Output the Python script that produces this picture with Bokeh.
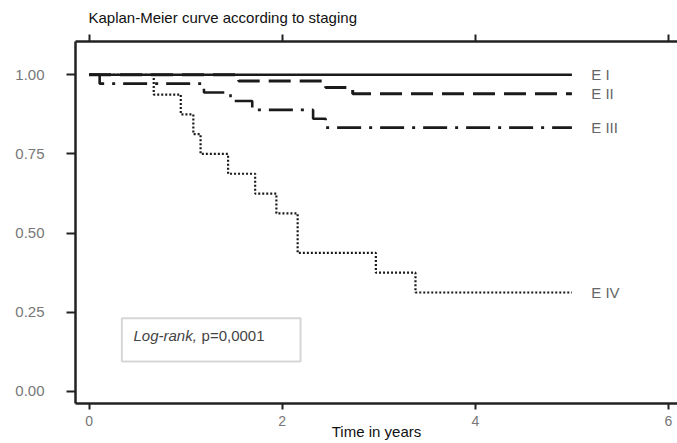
from bokeh.plotting import figure
from bokeh.models import (Range1d, LinearAxis, FixedTicker, Label, BoxAnnotation,
                          NumeralTickFormatter, CustomLabelingPolicy)
from bokeh.core.properties import value
from bokeh.embed import file_html
from bokeh.resources import INLINE

# ---------------- data ----------------
stage_names = ["E I", "E II", "E III", "E IV"]

t_e1 = [0.0, 5.0]
s_e1 = [1.0, 1.0]

t_e2 = [0.0, 1.55, 2.45, 2.73, 5.0]
s_e2 = [1.0, 0.98, 0.96, 0.94, 0.94]

t_e3 = [0.0, 0.11, 1.19, 1.465, 1.69, 2.32, 2.45, 5.0]
s_e3 = [1.0, 0.972, 0.944, 0.917, 0.889, 0.861, 0.833, 0.833]

t_e4 = [0.0, 0.67, 0.95, 1.08, 1.155, 1.44, 1.72, 1.94, 2.16, 2.97, 3.38, 5.0]
s_e4 = [1.0, 0.9375, 0.875, 0.8125, 0.75, 0.6875, 0.625, 0.5625, 0.4375, 0.375, 0.3125, 0.3125]

x_ticks = [0, 2, 4, 6]
x_tick_labels = ["0", "2", "4", "6"]
y_ticks = [0.0, 0.25, 0.5, 0.75, 1.0]
y_tick_labels = ["0.00", "0.25", "0.50", "0.75", "1.00"]

title_text = "Kaplan-Meier curve according to staging"
x_label_text = "Time in years"
logrank_italic = "Log-rank,"
logrank_value = "p=0,0001"

# ---------------- figure ----------------
FONT = "Liberation Sans"
p = figure(width=677, height=443,
           x_range=Range1d(-0.14, 6.093), y_range=Range1d(-0.0379, 1.105),
           output_backend="svg", toolbar_location=None,
           min_border_left=75, min_border_right=0, min_border_top=41, min_border_bottom=40)
p.outline_line_color = None
p.grid.visible = False
p.background_fill_color = "white"
p.border_fill_color = "white"

# title
p.title.text = title_text
p.title.align = "left"
p.title.offset = 13
p.title.text_font = FONT
p.title.text_font_size = "15px"
p.title.text_font_style = "normal"
p.title.text_color = "#111111"
p.title.standoff = -4

# bottom axis
xa = p.xaxis[0]
xa.ticker = FixedTicker(ticks=x_ticks)
xa.major_label_overrides = {t: l for t, l in zip(x_ticks, x_tick_labels)}
xa.axis_line_width = 2.5
xa.axis_line_color = "#222222"
xa.major_tick_in = 0
xa.major_tick_out = 6
xa.major_tick_line_width = 2
xa.major_tick_line_color = "#222222"
xa.minor_tick_in = 0
xa.minor_tick_out = 0
xa.major_label_standoff = 6
xa.major_label_text_font = FONT
xa.major_label_text_font_size = "14px"
xa.major_label_text_color = "#777777"
xa.axis_label = x_label_text
xa.axis_label_text_font = FONT
xa.axis_label_text_font_size = "15px"
xa.axis_label_text_font_style = "normal"
xa.axis_label_text_color = "#111111"
xa.axis_label_standoff = -6

# top axis (ticks only, no labels)
top = LinearAxis(ticker=FixedTicker(ticks=x_ticks))
top.axis_line_width = 2.5
top.axis_line_color = "#222222"
top.major_tick_in = 0
top.major_tick_out = 7
top.major_tick_line_width = 2
top.major_tick_line_color = "#222222"
top.minor_tick_in = 0
top.minor_tick_out = 0
top.major_label_standoff = 0
top.major_label_policy = CustomLabelingPolicy(code="for (const i of indices) { if (i < 0) yield i }")
p.add_layout(top, "above")

# left axis
ya = p.yaxis[0]
ya.ticker = FixedTicker(ticks=y_ticks)
ya.formatter = NumeralTickFormatter(format="0.00")
ya.major_label_overrides = {t: l for t, l in zip(y_ticks, y_tick_labels)}
ya.axis_line_width = 2.5
ya.axis_line_color = "#222222"
ya.major_tick_in = 0
ya.major_tick_out = 9
ya.major_tick_line_width = 2
ya.major_tick_line_color = "#222222"
ya.minor_tick_in = 0
ya.minor_tick_out = 0
ya.major_label_standoff = 22
ya.major_label_text_font = FONT
ya.major_label_text_font_size = "15px"
ya.major_label_text_color = "#777777"

# ---------------- curves ----------------
series = [
    (t_e1, s_e1, 2.4, "solid"),
    (t_e2, s_e2, 3.0, "22 9"),
    (t_e3, s_e3, 2.6, "24 8 3 8"),
    (t_e4, s_e4, 2.2, "2 2"),
]
for t, s, w, d in series:
    p.step(t, s, mode="after", line_color="#1a1a1a", line_width=w, line_dash=d)

# stage labels at end of curves
lab_x = [t[-1] + 0.2 for t, _, _, _ in series]
lab_y = [s[-1] for _, s, _, _ in series]
p.text(x=lab_x, y=lab_y, text=stage_names, text_font=value(FONT),
       text_font_size="15px", text_color="#666666", text_baseline="middle")

# log-rank box
p.add_layout(BoxAnnotation(left=0.34, right=2.19, bottom=0.095, top=0.231,
                           fill_color=None, fill_alpha=0,
                           line_color="#777777", line_width=2))
p.add_layout(Label(x=0.46, y=0.177, text=logrank_italic, text_font=FONT,
                   text_font_style="italic", text_font_size="15px",
                   text_color="#444444", text_baseline="middle"))
p.add_layout(Label(x=1.165, y=0.177, text=logrank_value, text_font=FONT,
                   text_font_size="15px", text_color="#444444", text_baseline="middle"))

open("out.html", "w").write(file_html(p, INLINE))
